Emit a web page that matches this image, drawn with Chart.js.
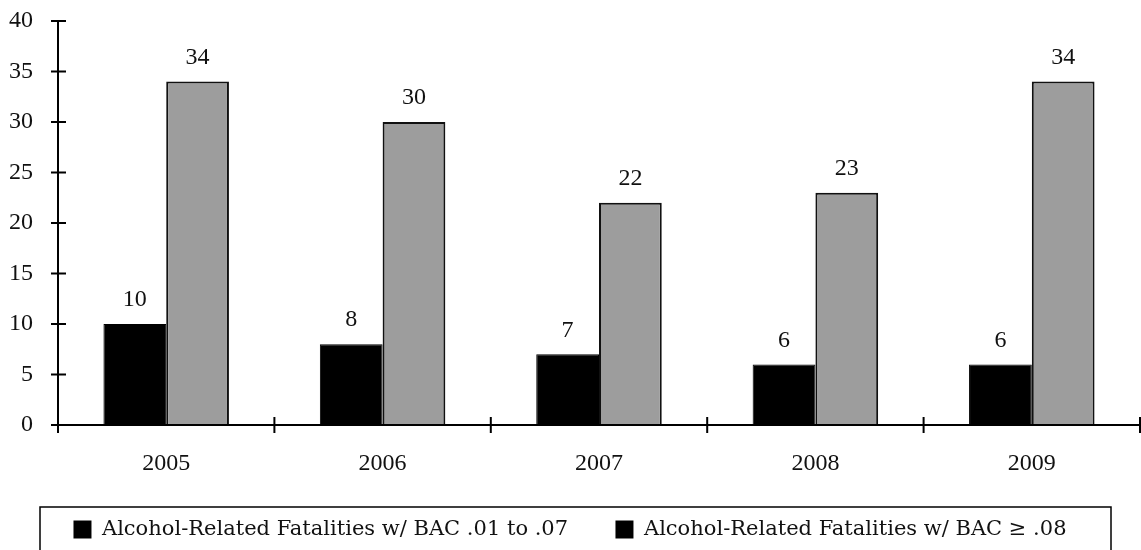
<!DOCTYPE html>
<html>
<head>
<meta charset="utf-8">
<script src="https://cdn.jsdelivr.net/npm/chart.js@4/dist/chart.umd.min.js"></script>
<style>
  html, body { margin: 0; padding: 0; background: #fff; }
  #wrap { width: 1141px; height: 550px; }
</style>
</head>
<body>
<div id="wrap"><canvas id="myBarChart" width="1141" height="550"></canvas></div>
<script>
// data
let years = ['2005', '2006', '2007', '2008', '2009'];
let bacLow = [10, 8, 7, 6, 6];
let bacHigh = [34, 30, 22, 23, 34];
let seriesNames = [
  'Alcohol-Related Fatalities w/ BAC .01 to .07',
  'Alcohol-Related Fatalities w/ BAC \u2265 .08'
];

let serif = "'Liberation Serif', 'DejaVu Serif', serif";
let wideSerif = "'DejaVu Serif', 'Liberation Serif', serif";

// value labels over the bars
let valueLabels = {
  id: 'valueLabels',
  afterDatasetsDraw(chart) {
    let ctx = chart.ctx;
    ctx.save();
    ctx.fillStyle = '#111';
    ctx.font = '24px ' + serif;
    ctx.textAlign = 'center';
    ctx.textBaseline = 'bottom';
    chart.data.datasets.forEach(function (ds, i) {
      chart.getDatasetMeta(i).data.forEach(function (bar, j) {
        ctx.fillText(ds.data[j], bar.x, bar.y - 12);
      });
    });
    ctx.restore();
  }
};

// axes with tick marks crossing the line + legend frame
let axesAndFrame = {
  id: 'axesAndFrame',
  afterDraw(chart) {
    let ctx = chart.ctx;
    let y = chart.scales.y;
    let area = chart.chartArea;
    ctx.save();
    ctx.strokeStyle = '#000';
    ctx.lineWidth = 2;
    ctx.beginPath();
    ctx.moveTo(area.left, y.getPixelForValue(40));
    ctx.lineTo(area.left, y.getPixelForValue(0));
    ctx.lineTo(area.right, y.getPixelForValue(0));
    for (let v = 0; v <= 40; v += 5) {
      let py = y.getPixelForValue(v);
      ctx.moveTo(area.left - 7, py);
      ctx.lineTo(area.left + 8, py);
    }
    for (let i = 0; i <= years.length; i++) {
      let px = area.left + (i * (area.right - area.left)) / years.length;
      let py = y.getPixelForValue(0);
      ctx.moveTo(px, py - 8);
      ctx.lineTo(px, py + 8);
    }
    ctx.stroke();
    // legend box
    ctx.lineWidth = 1.5;
    ctx.strokeRect(40, 507, 1071, 50);
    ctx.restore();
  }
};

let ctx = document.getElementById('myBarChart').getContext('2d');
let myBarChart = new Chart(ctx, {
  type: 'bar',
  data: {
    labels: years,
    datasets: [
      {
        label: seriesNames[0],
        data: bacLow,
        backgroundColor: '#000',
        borderColor: '#000',
        borderWidth: 1
      },
      {
        label: seriesNames[1],
        data: bacHigh,
        backgroundColor: '#9d9d9d',
        borderColor: '#111',
        borderWidth: 2
      }
    ]
  },
  options: {
    responsive: false,
    animation: false,
    layout: { padding: { top: 21, right: 1, left: 0, bottom: 0 } },
    datasets: { bar: { categoryPercentage: 0.58, barPercentage: 1.0 } },
    scales: {
      x: {
        grid: { display: false },
        border: { display: false },
        ticks: { color: '#111', font: { family: serif, size: 24 }, padding: 16 },
        afterFit(scale) { scale.height = 80; }
      },
      y: {
        min: 0,
        max: 40,
        // invisible tick marks only keep the labels off the axis
        grid: { drawOnChartArea: false, tickLength: 25, color: 'rgba(0,0,0,0)' },
        border: { display: false },
        ticks: { stepSize: 5, color: '#111', font: { family: serif, size: 24 }, padding: 0 },
        afterFit(scale) { scale.width = 58; }
      }
    },
    plugins: {
      tooltip: { enabled: false },
      legend: {
        position: 'bottom',
        labels: {
          color: '#111',
          font: { family: wideSerif, size: 21 },
          boxWidth: 18,
          boxHeight: 18,
          padding: 14,
          generateLabels(chart) {
            return chart.data.datasets.map(function (ds, i) {
              // wider gap after the first entry, as in the original
              let gap = i === 0 ? '\u00a0\u00a0\u00a0\u00a0\u00a0' : '';
              return {
                text: ds.label + gap,
                fillStyle: '#000',
                strokeStyle: '#000',
                lineWidth: 0,
                datasetIndex: i,
                fontColor: '#111'
              };
            });
          }
        }
      }
    }
  },
  plugins: [valueLabels, axesAndFrame]
});
</script>
</body>
</html>
